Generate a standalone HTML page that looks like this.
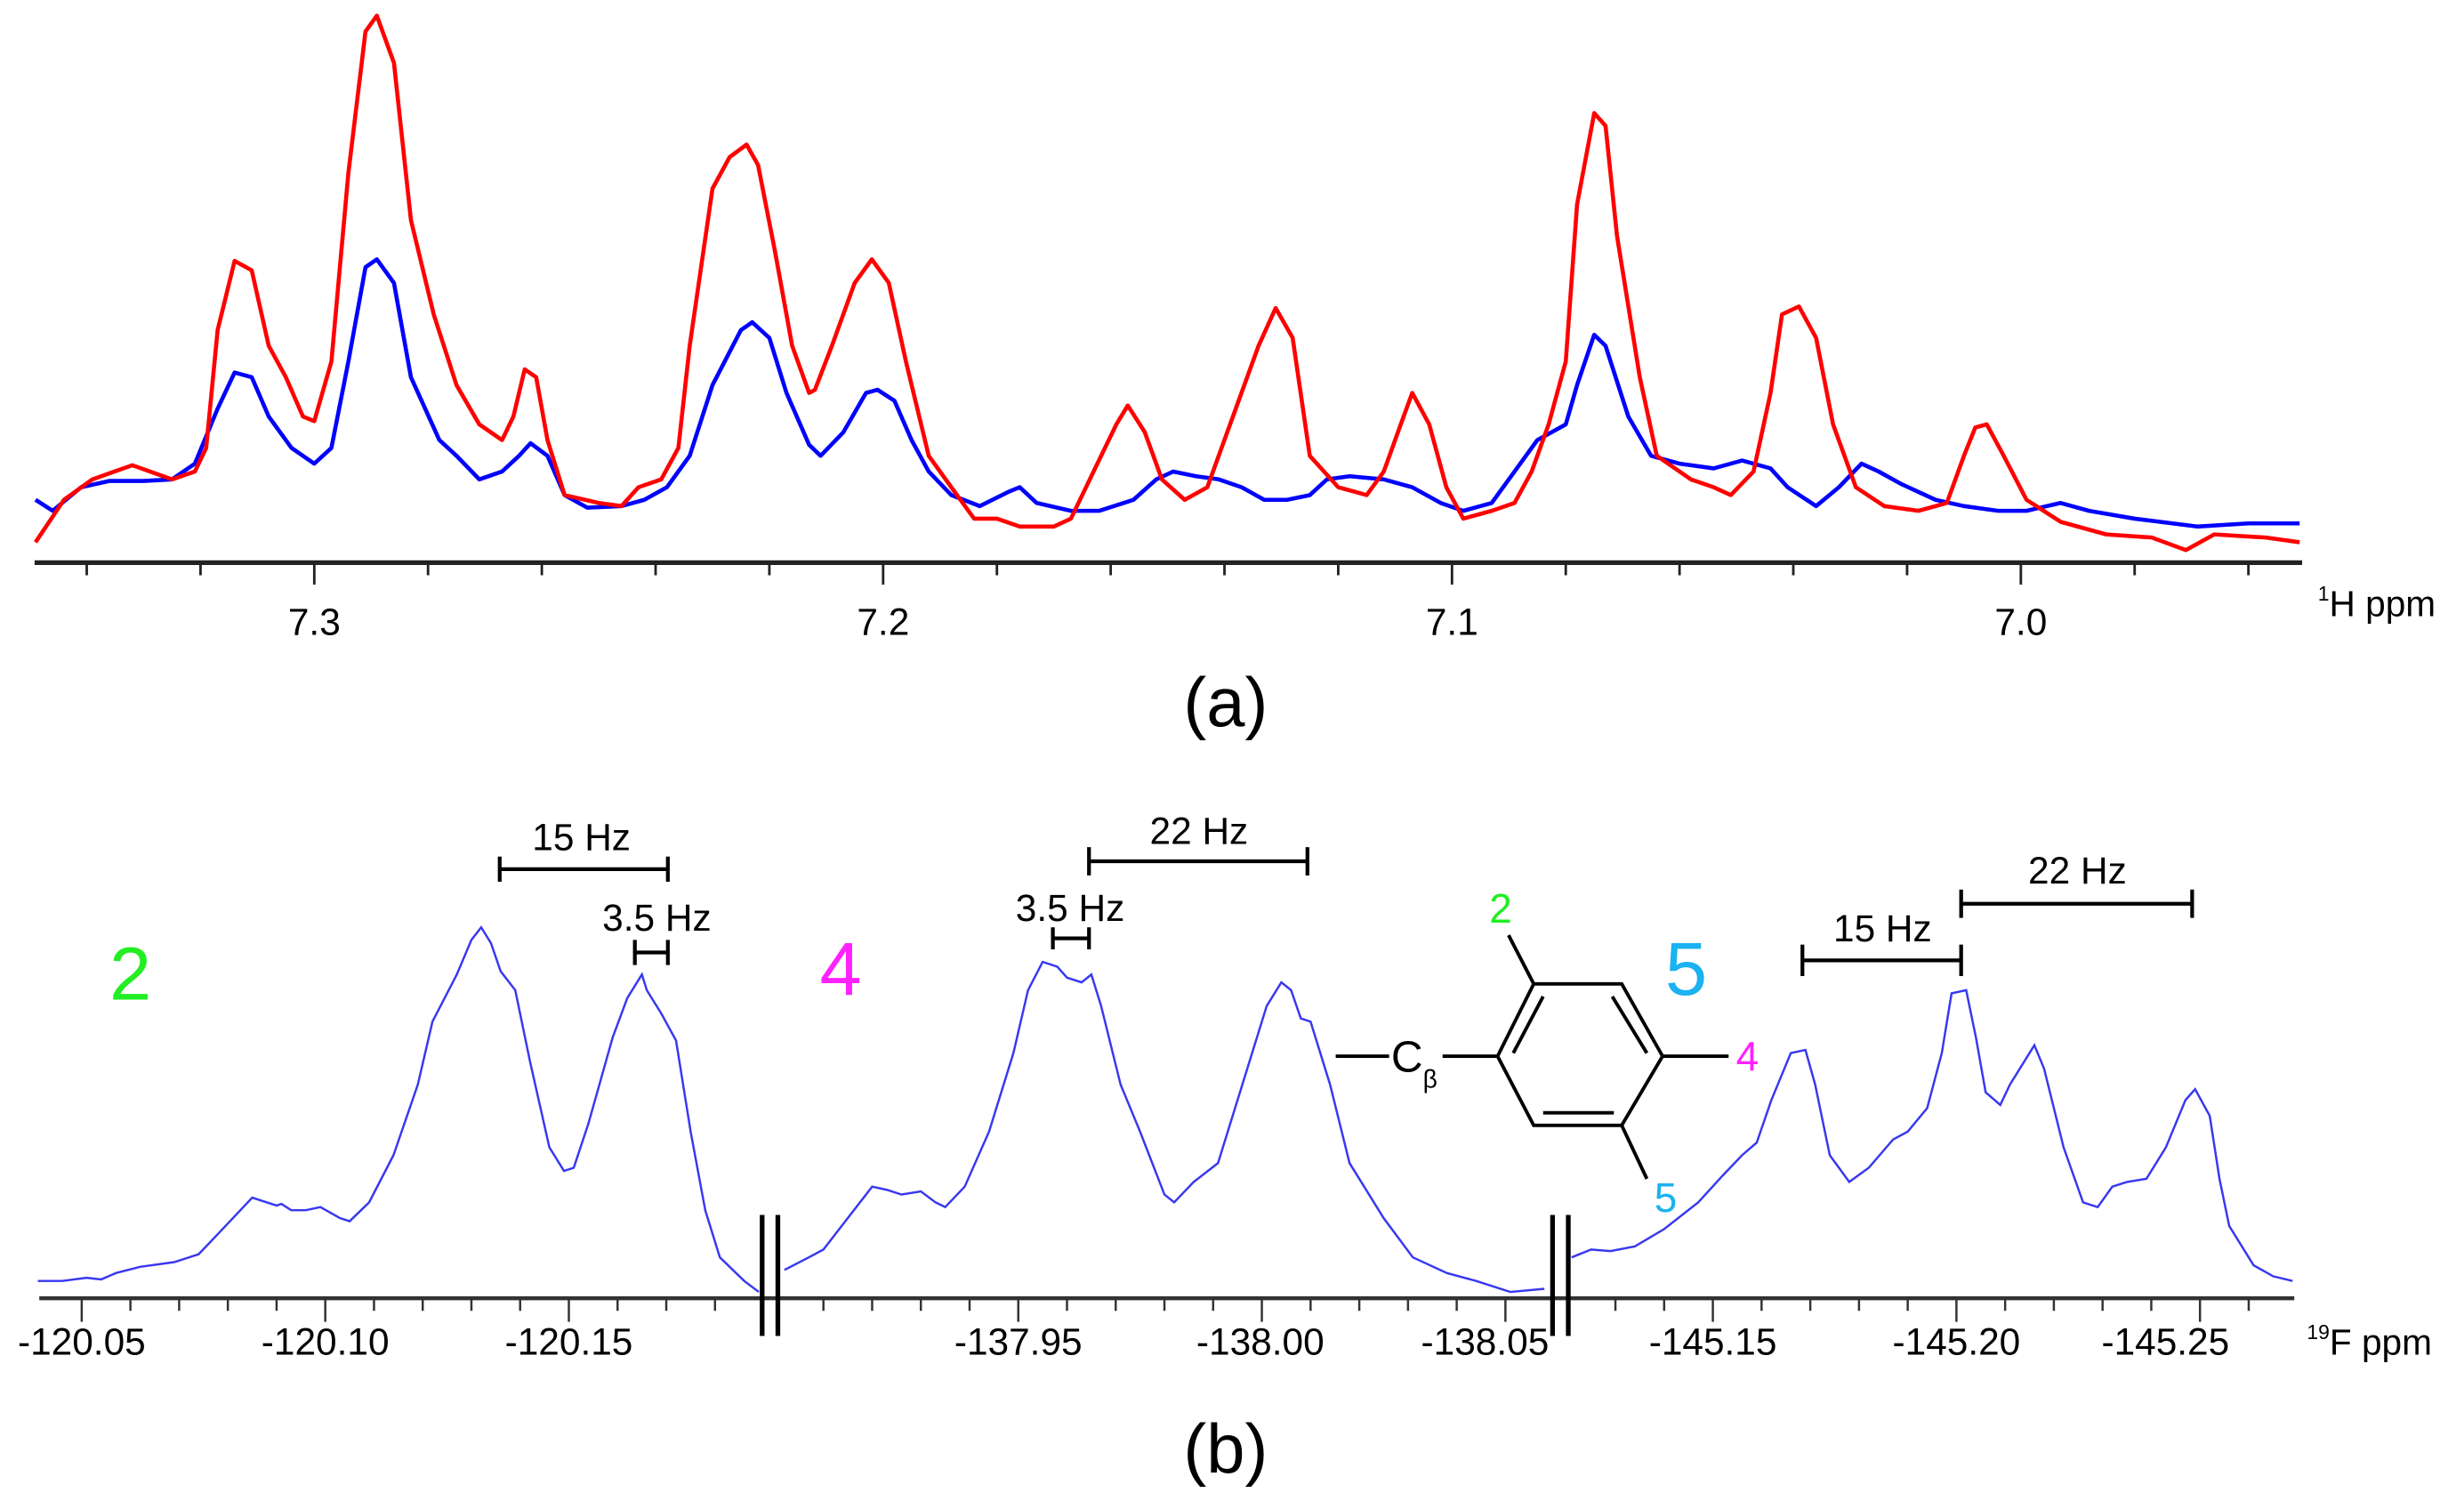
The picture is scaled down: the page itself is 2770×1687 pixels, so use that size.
<!DOCTYPE html>
<html><head><meta charset="utf-8"><style>
html,body{margin:0;padding:0;background:#fff;}
svg{display:block;}
text{font-family:"Liberation Sans",sans-serif;}
</style></head><body>
<svg id="fig" width="2770" height="1687" viewBox="0 0 1568 955" preserveAspectRatio="none" xmlns="http://www.w3.org/2000/svg">
<g id="pa"></g>
<g id="pb"></g>
<text x="780" y="462" font-size="44" text-anchor="middle">(a)</text>
<text x="780" y="937" font-size="44" text-anchor="middle">(b)</text>
<text x="1475" y="392" font-size="23"><tspan font-size="13" dy="-10">1</tspan><tspan dy="10">H ppm</tspan></text>
<text x="1468" y="862" font-size="23"><tspan font-size="13" dy="-10">19</tspan><tspan dy="10">F ppm</tspan></text>
<text x="83" y="636" font-size="48" fill="#22ee22" text-anchor="middle">2</text>
<text x="535" y="633" font-size="48" fill="#ff22ff" text-anchor="middle">4</text>
<text x="1073" y="633" font-size="48" fill="#1ab2f0" text-anchor="middle">5</text>
<g stroke="#000" stroke-width="2.2" fill="none">
<polygon points="976,626 1032,626 1058,672 1032,716 976,716 953,672"/>
<line x1="963" y1="670" x2="982" y2="634"/>
<line x1="1026" y1="634" x2="1048" y2="670"/>
<line x1="982" y1="708" x2="1027" y2="708"/>
<line x1="976" y1="626" x2="960" y2="595"/>
<line x1="1058" y1="672" x2="1100" y2="672"/>
<line x1="1032" y1="716" x2="1048" y2="750"/>
<line x1="850" y1="672" x2="884" y2="672"/>
<line x1="918" y1="672" x2="953" y2="672"/>
</g>
<text x="900" y="682" font-size="28" text-anchor="middle">C<tspan font-size="16" dy="10">β</tspan></text>
<text x="955" y="587" font-size="26" fill="#22ee22" text-anchor="middle">2</text>
<text x="1112" y="681" font-size="26" fill="#ff22ff" text-anchor="middle">4</text>
<text x="1060" y="771" font-size="26" fill="#1ab2f0" text-anchor="middle">5</text>
<g id="ann"></g>
</svg>
<script>
const NS="http://www.w3.org/2000/svg";
// ---- Panel (a) data: [ppm, intensity]
const redSeries=[[7.349,13],[7.344,40],[7.339,53],[7.332,62],[7.325,53],[7.321,58],[7.319,73],[7.317,148],[7.314,192],[7.311,186],[7.308,138],[7.305,118],[7.302,93],[7.300,90],[7.297,128],[7.294,248],[7.291,338],[7.289,348],[7.286,318],[7.283,218],[7.279,158],[7.275,113],[7.271,88],[7.267,78],[7.265,93],[7.263,123],[7.261,118],[7.259,78],[7.256,43],[7.250,38],[7.246,36],[7.243,48],[7.239,53],[7.236,73],[7.234,138],[7.230,238],[7.227,258],[7.224,266],[7.222,253],[7.219,198],[7.216,138],[7.213,108],[7.212,110],[7.209,138],[7.205,178],[7.202,193],[7.199,178],[7.196,128],[7.192,68],[7.188,48],[7.184,28],[7.180,28],[7.176,23],[7.170,23],[7.167,28],[7.163,58],[7.159,88],[7.157,100],[7.154,83],[7.151,53],[7.147,40],[7.143,48],[7.138,98],[7.134,138],[7.131,162],[7.128,143],[7.125,68],[7.120,48],[7.115,43],[7.112,58],[7.109,88],[7.107,108],[7.104,88],[7.101,48],[7.098,28],[7.093,33],[7.089,38],[7.086,58],[7.083,88],[7.080,128],[7.078,228],[7.075,286],[7.073,278],[7.071,208],[7.067,118],[7.064,68],[7.058,53],[7.054,48],[7.051,43],[7.047,58],[7.044,108],[7.042,158],[7.039,163],[7.036,143],[7.033,88],[7.029,48],[7.024,36],[7.018,33],[7.013,38],[7.010,68],[7.008,86],[7.006,88],[7.003,68],[6.999,40],[6.993,26],[6.985,18],[6.977,16],[6.971,8],[6.966,18],[6.957,16],[6.951,13]];
const blueSeries=[[7.349,40],[7.346,33],[7.341,48],[7.336,52],[7.330,52],[7.325,53],[7.321,63],[7.317,98],[7.314,121],[7.311,118],[7.308,93],[7.304,73],[7.300,63],[7.297,73],[7.294,128],[7.291,188],[7.289,193],[7.286,178],[7.283,118],[7.278,78],[7.275,68],[7.271,53],[7.267,58],[7.264,68],[7.262,76],[7.259,68],[7.256,43],[7.252,35],[7.246,36],[7.242,40],[7.238,48],[7.234,68],[7.230,113],[7.225,148],[7.223,153],[7.220,143],[7.217,108],[7.213,75],[7.211,68],[7.207,83],[7.203,108],[7.201,110],[7.198,103],[7.195,78],[7.192,58],[7.188,43],[7.183,36],[7.178,45],[7.176,48],[7.173,38],[7.167,33],[7.162,33],[7.156,40],[7.152,53],[7.149,58],[7.145,55],[7.141,53],[7.137,48],[7.133,40],[7.129,40],[7.125,43],[7.122,53],[7.118,55],[7.112,53],[7.107,48],[7.102,38],[7.098,33],[7.093,38],[7.089,58],[7.085,78],[7.080,88],[7.078,113],[7.075,145],[7.073,138],[7.069,93],[7.065,68],[7.060,63],[7.054,60],[7.049,65],[7.044,60],[7.041,48],[7.036,36],[7.032,48],[7.028,63],[7.025,58],[7.021,50],[7.015,40],[7.010,36],[7.004,33],[6.999,33],[6.993,38],[6.988,33],[6.980,28],[6.969,23],[6.960,25],[6.951,25]];
const aMajorTicks=[7.3,7.2,7.1,7.0];
const aTickLabels=["7.3","7.2","7.1","7.0"];
// ---- Panel (b) data: [|ppm|, intensity] per segment
const fSeg1=[[120.041,11],[120.046,11],[120.051,13],[120.054,12],[120.057,16],[120.062,20],[120.069,23],[120.074,28],[120.078,41],[120.085,64],[120.090,59],[120.091,60],[120.093,56],[120.096,56],[120.099,58],[120.103,51],[120.105,49],[120.109,61],[120.114,91],[120.119,136],[120.122,176],[120.127,206],[120.130,228],[120.132,236],[120.134,226],[120.136,208],[120.139,196],[120.142,151],[120.146,96],[120.149,81],[120.151,83],[120.154,111],[120.159,166],[120.162,191],[120.165,206],[120.166,196],[120.169,181],[120.172,164],[120.175,106],[120.178,56],[120.181,26],[120.186,11],[120.189,4]];
const fSeg2=[[137.902,18],[137.907,26],[137.910,31],[137.915,51],[137.920,71],[137.923,69],[137.926,66],[137.930,68],[137.933,61],[137.935,58],[137.939,71],[137.944,106],[137.949,156],[137.952,196],[137.955,214],[137.958,211],[137.960,204],[137.963,201],[137.965,206],[137.967,186],[137.971,136],[137.975,106],[137.980,66],[137.982,61],[137.986,74],[137.991,86],[137.996,136],[138.001,186],[138.004,201],[138.006,196],[138.008,178],[138.010,176],[138.014,136],[138.018,86],[138.025,51],[138.031,26],[138.038,16],[138.044,11],[138.051,4],[138.058,6]];
const fSeg3=[[145.121,26],[145.125,31],[145.129,30],[145.134,33],[145.140,44],[145.147,61],[145.152,78],[145.156,91],[145.159,99],[145.162,126],[145.166,156],[145.169,158],[145.171,136],[145.174,91],[145.178,74],[145.182,83],[145.187,101],[145.190,106],[145.194,121],[145.197,156],[145.199,194],[145.202,196],[145.204,166],[145.206,131],[145.209,123],[145.211,136],[145.215,156],[145.216,161],[145.218,146],[145.222,96],[145.226,61],[145.229,58],[145.232,71],[145.235,74],[145.239,76],[145.243,96],[145.247,126],[145.249,133],[145.252,116],[145.254,76],[145.256,46],[145.261,21],[145.265,14],[145.269,11]];
const seg1Labels=["-120.05","-120.10","-120.15"];
const seg2Labels=["-137.95","-138.00","-138.05"];
const seg3Labels=["-145.15","-145.20","-145.25"];

function mk(tag,attrs,parent){const e=document.createElementNS(NS,tag);for(const k in attrs)e.setAttribute(k,attrs[k]);parent.appendChild(e);return e;}

// Panel a axes
const pa=document.getElementById('pa');
const xa=p=>200+(7.3-p)*3620;
const ya=v=>358-v;
const axA=mk('line',{x1:22,y1:358,x2:1465,y2:358,stroke:'#222','stroke-width':3},pa);


for(let i=0;i<=20;i++){const p=7.34-i*0.02;const x=xa(p);if(x<22||x>1465)continue;
 const major=Math.abs((p*10)-Math.round(p*10))<1e-6;
 const t=mk('line',{x1:x,y1:358,x2:x,y2:major?372:366,stroke:'#222','stroke-width':1.6},pa);
 
 }
aMajorTicks.forEach((p,i)=>{const t=mk('text',{x:xa(p),y:404,'font-size':24,'text-anchor':'middle'},pa);t.textContent=aTickLabels[i];
 
 });
function drawA(series,color,name){const d=series.map(([p,v],i)=>(i?'L':'M')+xa(p).toFixed(1)+' '+ya(v).toFixed(1)).join(' ');
 const e=mk('path',{d:d,fill:'none',stroke:color,'stroke-width':2.6,'stroke-linejoin':'round'},pa);
 
 }
drawA(blueSeries,'#0000ff','blue-spectrum-trace');
drawA(redSeries,'#ff0000','red-spectrum-trace');

// Panel b
const pb=document.getElementById('pb');
const yb=v=>826-v;
const segs=[{data:fSeg1,x0:52,d0:120.05,lo:25,hi:485,labels:seg1Labels,lx:[52,207,362],name:'f2'},
 {data:fSeg2,x0:648,d0:137.95,lo:498,hi:985,labels:seg2Labels,lx:[648,802,945],name:'f4'},
 {data:fSeg3,x0:1090,d0:145.15,lo:1000,hi:1460,labels:seg3Labels,lx:[1090,1245,1378],name:'f5'}];
const axB=mk('line',{x1:25,y1:826,x2:1460,y2:826,stroke:'#333','stroke-width':2.6},pb);


segs.forEach(s=>{const xf=d=>s.x0+(d-s.d0)*3100;
 for(let k=-20;k<=20;k++){const d=s.d0+k*0.01;const x=xf(d);if(x<s.lo||x>s.hi)continue;
  const t=mk('line',{x1:x,y1:826,x2:x,y2:(k%5===0)?841:834,stroke:'#333','stroke-width':1.4},pb);
  
  }
 s.labels.forEach((l,i)=>{const t=mk('text',{x:s.lx[i],y:862,'font-size':24,'text-anchor':'middle'},pb);t.textContent=l;
  
  });
 const d=s.data.map(([p,v],i)=>(i?'L':'M')+xf(p).toFixed(1)+' '+yb(v).toFixed(1)).join(' ');
 const e=mk('path',{d:d,fill:'none',stroke:'#3838f0','stroke-width':1.4},pb);
 
 });
[[485,495],[988,998]].forEach(xs=>xs.forEach(x=>{const e=mk('line',{x1:x,y1:773,x2:x,y2:850,stroke:'#000','stroke-width':3},pb);
 
 }));

// annotations
const ann=document.getElementById('ann');
function bracket(x1,x2,y,th,label,lx,ly){
 const g=mk('g',{stroke:'#000','stroke-width':2.4},ann);
 
 
 mk('line',{x1:x1,y1:y,x2:x2,y2:y},g);mk('line',{x1:x1,y1:y-th,x2:x1,y2:y+th},g);mk('line',{x1:x2,y1:y-th,x2:x2,y2:y+th},g);
 const t=mk('text',{x:lx,y:ly,'font-size':24,'text-anchor':'middle'},ann);t.textContent=label;
 
 }
bracket(318,425,553,8,'15 Hz',370,541);
bracket(404,425,606,8,'3.5 Hz',418,592);
bracket(693,832,548,9,'22 Hz',763,537);
bracket(670,693,597,7,'3.5 Hz',681,586);
bracket(1147,1248,611,10,'15 Hz',1198,599);
bracket(1248,1395,575,9,'22 Hz',1322,562);
</script>
</body></html>
